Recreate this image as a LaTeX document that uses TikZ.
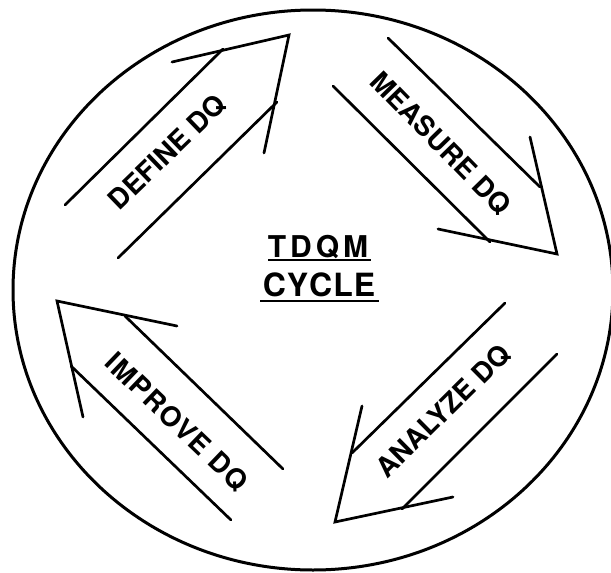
\documentclass[tikz,border=0pt]{standalone}
\usepackage{fontspec}
\setmainfont{TeX Gyre Heros}
\makeatletter
\def\lsend{\lsend}
\def\spaced#1#2{\def\ls@k{#1}\ls@a#2\lsend}
\def\ls@a#1{\ifx#1\lsend\unkern\else#1\kern\ls@k\relax\expandafter\ls@a\fi}
\makeatother
\tikzset{
  rim/.style={line width=3pt},
  shaft/.style={line width=2.7pt, line cap=round},
  head/.style={line width=2.7pt, line join=miter, line cap=round},
  lbl/.style={font=\bfseries\fontsize{27.5}{27.5}\selectfont, inner sep=0pt, text height=19.7pt, text depth=0pt},
  ttl/.style={font=\bfseries\fontsize{#1}{#1}\selectfont, inner sep=0pt, text depth=0pt},
  uline/.style={line width=2.2pt}
}
\begin{document}
\begin{tikzpicture}[x=1pt,y=-1pt]
\useasboundingbox (0,0) rectangle (611,573);
\clip (0,0) rectangle (611,573);
% outer circle
\draw[rim] (313,290) ellipse [x radius=300, y radius=280];
% DEFINE DQ arrow
\coordinate (d1) at (65,205);  \coordinate (d2) at (223,49);
\coordinate (d3) at (118,258); \coordinate (d4) at (277,102);
\coordinate (db1) at (172,62); \coordinate (dt) at (289,35); \coordinate (db2) at (264,153);
\draw[shaft] (d1) -- (d2);
\draw[shaft] (d3) -- (d4);
\draw[head] (db1) -- (dt) -- (db2);
% MEASURE DQ arrow
\coordinate (m1) at (388,38);  \coordinate (m2) at (540,187);
\coordinate (m3) at (333,86);  \coordinate (m4) at (490,242);
\coordinate (mb1) at (530,137); \coordinate (mt) at (557,254); \coordinate (mb2) at (438,229);
\draw[shaft] (m1) -- (m2);
\draw[shaft] (m3) -- (m4);
\draw[head] (mb1) -- (mt) -- (mb2);
% ANALYZE DQ arrow
\coordinate (a1) at (505,303); \coordinate (a2) at (352,453);
\coordinate (a3) at (557,354); \coordinate (a4) at (402,509);
\coordinate (ab1) at (362,406); \coordinate (at) at (335,522); \coordinate (ab2) at (453,497);
\draw[shaft] (a1) -- (a2);
\draw[shaft] (a3) -- (a4);
\draw[head] (ab1) -- (at) -- (ab2);
% IMPROVE DQ arrow
\coordinate (i1) at (283,469); \coordinate (i2) at (125,316);
\coordinate (i3) at (231,520); \coordinate (i4) at (71,366);
\coordinate (ib1) at (177,326); \coordinate (it) at (57,301); \coordinate (ib2) at (83,417);
\draw[shaft] (i1) -- (i2);
\draw[shaft] (i3) -- (i4);
\draw[head] (ib1) -- (it) -- (ib2);
% labels
\node[lbl, rotate=44]   (ldef) at (167,152) {DEFINE DQ};
\node[lbl, rotate=-45.7] (lmea) at (441,143) {MEASURE DQ};
\node[lbl, rotate=44.7] (lana) at (443,411) {ANALYZE DQ};
\node[lbl, rotate=-43.8] (limp) at (177,422) {\addfontfeature{LetterSpace=5}IMPROVE DQ};
% centre title
\node[ttl=30, text height=21.5pt] (t1) at (318,247) {\spaced{4pt}{TDQM}};
\node[ttl=32, text height=23pt] (t2) at (319,285) {\spaced{1pt}{CYCLE}};
\coordinate (u1a) at (268,260); \coordinate (u1b) at (371,260);
\coordinate (u2a) at (260,301); \coordinate (u2b) at (379,301);
\draw[uline] (u1a) -- (u1b);
\draw[uline] (u2a) -- (u2b);
\end{tikzpicture}
\end{document}
